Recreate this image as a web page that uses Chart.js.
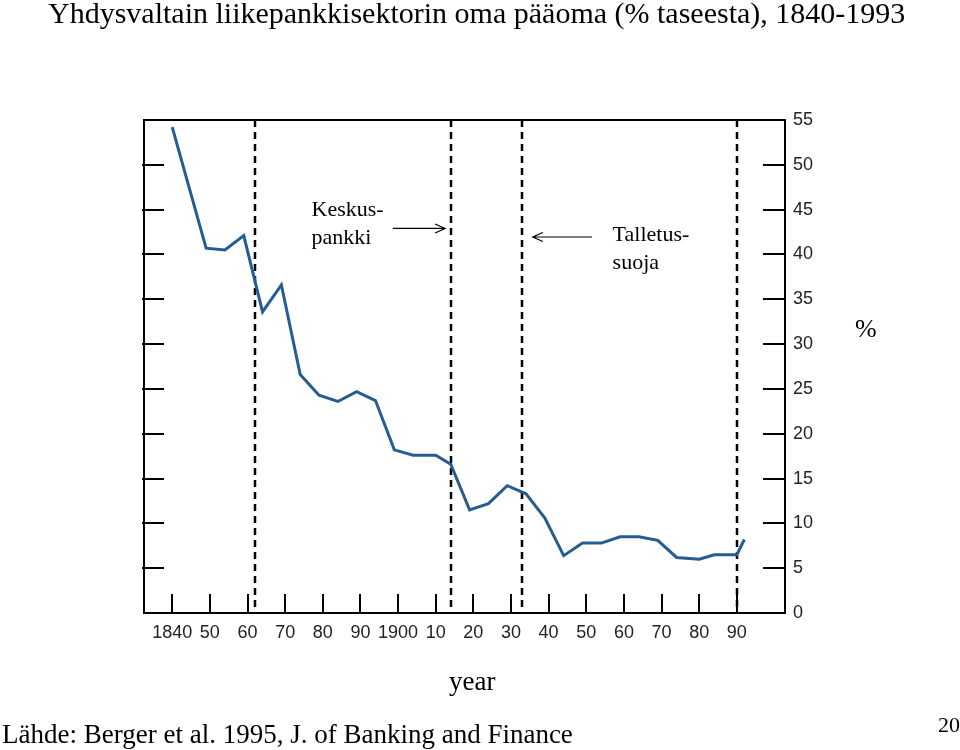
<!DOCTYPE html>
<html>
<head>
<meta charset="utf-8">
<script src="https://cdn.jsdelivr.net/npm/chart.js@4.4.1/dist/chart.umd.min.js"></script>
<style>
  html, body { margin: 0; padding: 0; background: #fff; }
  #wrap { position: relative; width: 960px; height: 750px; overflow: hidden; }
  #grafico { position: absolute; left: 0; top: 0; }
  .t { position: absolute; font-family: "Liberation Serif", "Times New Roman", serif; color: #000; white-space: nowrap; line-height: 1; }
</style>
</head>
<body>
<div id="wrap">
  <canvas id="grafico" width="960" height="750"></canvas>
  <div class="t" style="left:48px; top:-2px; font-size:30px;">Yhdysvaltain liikepankkisektorin oma pääoma (% taseesta), 1840-1993</div>
  <div class="t" style="left:855px; top:316px; font-size:26px;">%</div>
  <div class="t" style="left:449px; top:668px; font-size:27px;">year</div>
  <div class="t" style="left:2px; top:721px; font-size:27px;">Lähde: Berger et al. 1995, J. of Banking and Finance</div>
  <div class="t" style="left:938px; top:714px; font-size:22px;">20</div>
</div>

<script>
// =====================
// DATA
// =====================
const years = [1840, 1849, 1854, 1859, 1864, 1869, 1874, 1879, 1884, 1889, 1894, 1899, 1904, 1910, 1914,
               1919, 1924, 1929, 1934, 1939, 1944, 1949, 1954, 1959, 1964, 1969, 1974, 1980, 1984, 1990, 1992];
const capitalPct = [54.2, 40.7, 40.5, 42.1, 33.6, 36.6, 26.6, 24.3, 23.6, 24.7, 23.7, 18.2, 17.6, 17.6, 16.6,
                    11.5, 12.2, 14.2, 13.3, 10.6, 6.4, 7.8, 7.8, 8.5, 8.5, 8.1, 6.2, 6.0, 6.5, 6.5, 8.2];

const xTickYears  = [1840, 1850, 1860, 1870, 1880, 1890, 1900, 1910, 1920, 1930, 1940, 1950, 1960, 1970, 1980, 1990];
const xTickLabels = ["1840", "50", "60", "70", "80", "90", "1900", "10", "20", "30", "40", "50", "60", "70", "80", "90"];
const yTickValues = [0, 5, 10, 15, 20, 25, 30, 35, 40, 45, 50, 55];
const yTickLabels = ["0", "5", "10", "15", "20", "25", "30", "35", "40", "45", "50", "55"];

// pystyviivat (katkoviiva)
const eventYears = [1862, 1914, 1933, 1990];

const notes = [
  { lines: ["Keskus-", "pankki"], year: 1877, value: 44.3 },
  { lines: ["Talletus-", "suoja"], year: 1957, value: 41.5 }
];
const arrows = [
  { fromYear: 1898.6, toYear: 1912.5, value: 42.9 },
  { fromYear: 1951.5, toYear: 1935.8, value: 41.95 }
];

// =====================
// PLUGIN: kehys, tikit, katkoviivat, merkinnät
// =====================
const kehys = {
  id: "kehys",
  beforeDatasetsDraw(chart) {
    const { ctx, chartArea: a, scales: { x } } = chart;
    ctx.save();
    ctx.strokeStyle = "#000";
    ctx.lineWidth = 2.5;
    ctx.setLineDash([7, 5]);
    eventYears.forEach(yr => {
      const px = Math.round(x.getPixelForValue(yr));
      ctx.beginPath();
      ctx.moveTo(px, a.top);
      ctx.lineTo(px, a.bottom);
      ctx.stroke();
    });
    ctx.restore();
  },
  afterDraw(chart) {
    const { ctx, chartArea: a, scales: { x, y } } = chart;
    ctx.save();
    ctx.strokeStyle = "#000";
    ctx.lineWidth = 2;
    ctx.strokeRect(a.left, a.top, a.right - a.left, a.bottom - a.top);

    // tikit sisäpuolelle
    yTickValues.slice(1, -1).forEach(v => {
      const py = Math.round(y.getPixelForValue(v));
      ctx.beginPath();
      ctx.moveTo(a.left - 2, py); ctx.lineTo(a.left + 20, py);
      ctx.moveTo(a.right - 22, py); ctx.lineTo(a.right, py);
      ctx.stroke();
    });
    xTickYears.forEach(v => {
      const px = Math.round(x.getPixelForValue(v));
      ctx.beginPath();
      ctx.moveTo(px, a.bottom); ctx.lineTo(px, a.bottom - 19);
      ctx.stroke();
    });

    // tekstit
    ctx.fillStyle = "#000";
    ctx.font = "22px 'Liberation Serif', serif";
    ctx.textBaseline = "alphabetic";
    notes.forEach(n => {
      const px = x.getPixelForValue(n.year);
      const py = y.getPixelForValue(n.value);
      n.lines.forEach((s, i) => ctx.fillText(s, px, py + i * 27.6));
    });

    // nuolet
    ctx.lineWidth = 1.2;
    arrows.forEach(ar => {
      const x0 = x.getPixelForValue(ar.fromYear);
      const x1 = x.getPixelForValue(ar.toYear);
      const py = y.getPixelForValue(ar.value);
      const dir = Math.sign(x1 - x0);
      ctx.beginPath();
      ctx.moveTo(x0, py); ctx.lineTo(x1, py);
      ctx.moveTo(x1 - dir * 10, py - 4.5); ctx.lineTo(x1, py); ctx.lineTo(x1 - dir * 10, py + 4.5);
      ctx.stroke();
    });
    ctx.restore();
  }
};

// =====================
// GRAFIIKKA
// =====================
const tickFont = { family: "'Liberation Sans', Arial, sans-serif", size: 18 };

new Chart(document.getElementById("grafico"), {
  type: "line",
  data: {
    datasets: [{
      data: years.map((yr, i) => ({ x: yr, y: capitalPct[i] })),
      borderColor: "#255d92",
      borderWidth: 3,
      pointRadius: 0,
      tension: 0,
      fill: false
    }]
  },
  options: {
    responsive: false,
    animation: false,
    devicePixelRatio: 1,
    layout: { padding: { left: 144, top: 120, right: 115, bottom: 97 } },
    plugins: { legend: { display: false }, tooltip: { enabled: false } },
    scales: {
      x: {
        type: "linear",
        min: 1832.5,
        max: 2002.8,
        grid: { display: false, drawTicks: false },
        border: { display: false },
        afterBuildTicks: s => { s.ticks = xTickYears.map(v => ({ value: v })); },
        afterFit: s => { s.height = 40; },
        ticks: {
          callback: (v, i) => xTickLabels[i],
          font: tickFont,
          color: "#222",
          padding: 9,
          maxRotation: 0,
          autoSkip: false
        }
      },
      y: {
        position: "right",
        min: 0,
        max: 55,
        grid: { display: false, drawTicks: false },
        border: { display: false },
        afterBuildTicks: s => { s.ticks = yTickValues.map(v => ({ value: v })); },
        afterFit: s => { s.width = 60; },
        ticks: {
          callback: (v, i) => yTickLabels[i],
          font: tickFont,
          color: "#222",
          padding: 8
        }
      }
    }
  },
  plugins: [kehys]
});
</script>
</body>
</html>
